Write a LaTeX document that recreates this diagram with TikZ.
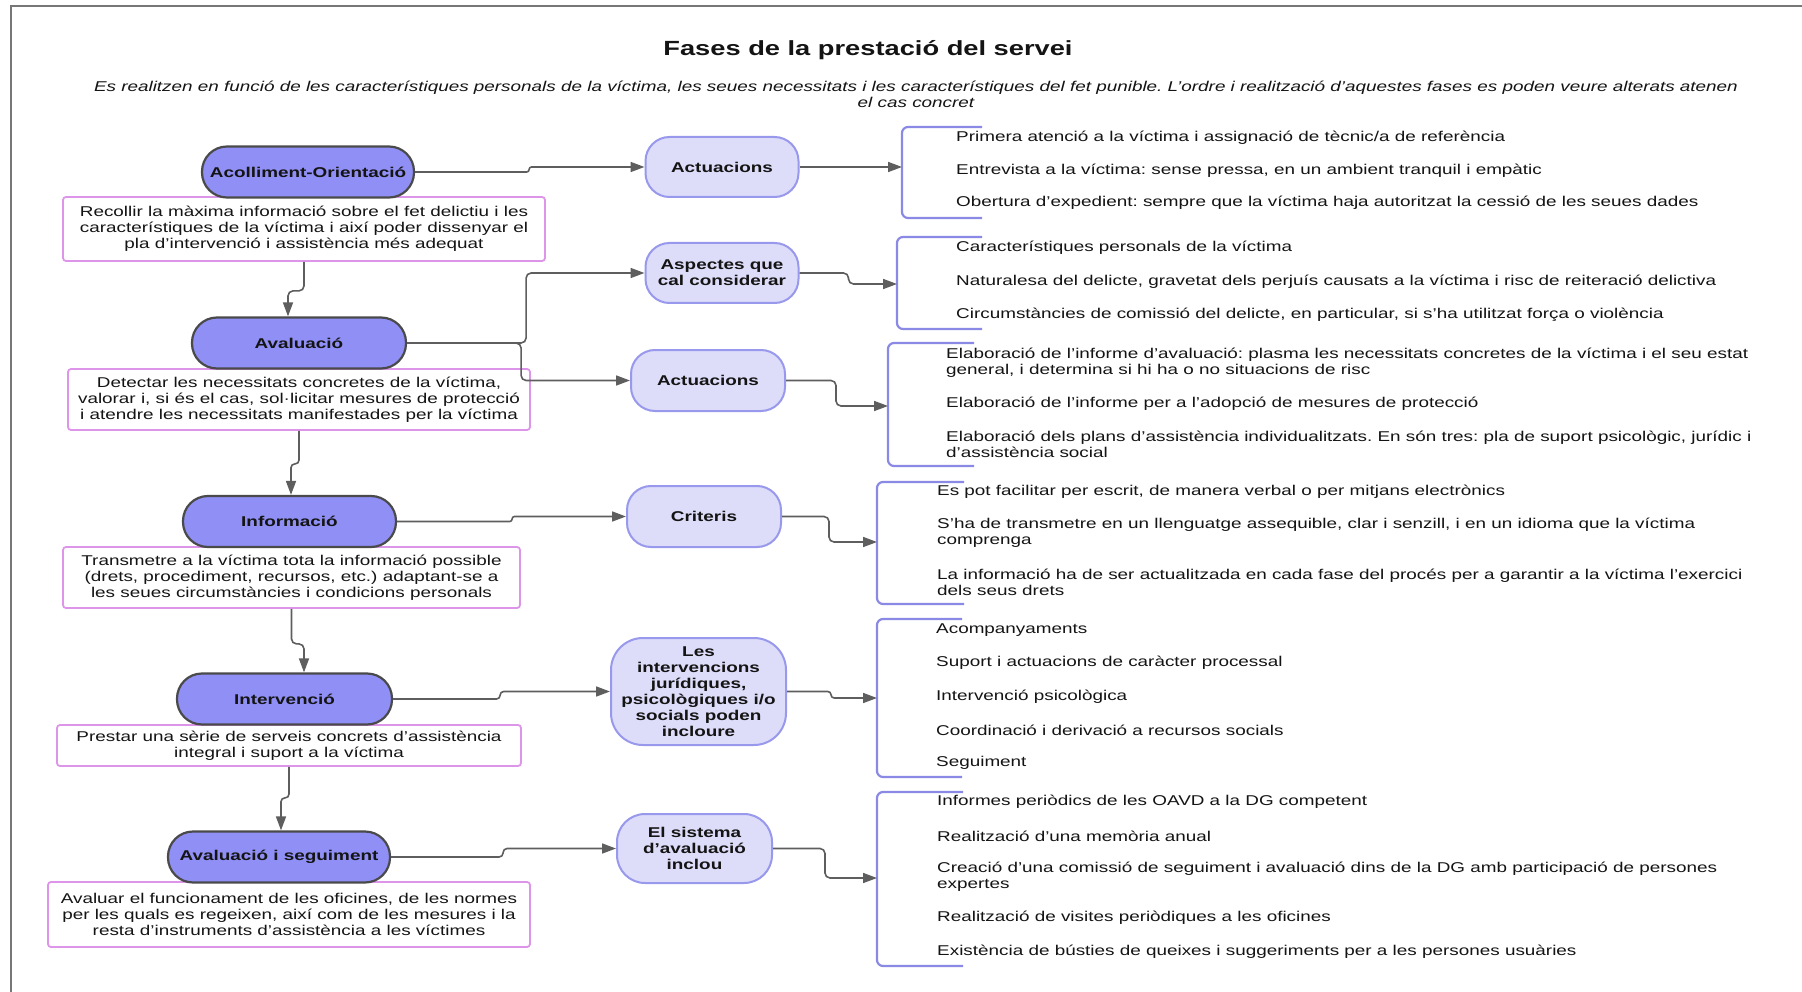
\documentclass[tikz,border=0pt]{standalone}
\usepackage{fontspec}
\setmainfont{Liberation Sans}[FakeStretch=1.33]
\usetikzlibrary{arrows.meta,calc}
\definecolor{stfill}{HTML}{8F8FF6}
\definecolor{stdraw}{HTML}{4A4A4A}
\definecolor{mfill}{HTML}{DDDDFA}
\definecolor{mdraw}{HTML}{9898EC}
\definecolor{dbox}{HTML}{DD95EA}
\definecolor{brk}{HTML}{8A8AE6}
\definecolor{conn}{HTML}{5E5E5E}
\definecolor{framec}{HTML}{777777}
\frenchspacing
\begin{document}
\begin{tikzpicture}[x=1pt,y=-1pt,
  every node/.style={font=\fontsize{14.2}{16}\selectfont, text=black!92},
  stad/.style={draw=stdraw, line width=2.2pt, fill=stfill, rounded corners=25pt, minimum height=51pt, inner sep=0pt, font=\fontsize{14.2}{16}\selectfont\bfseries},
  desc/.style={draw=dbox, line width=1.8pt, fill=white, rounded corners=3pt, align=center, inner sep=0pt},
  mid/.style={draw=mdraw, line width=2pt, fill=mfill, rounded corners=24pt, align=center, inner sep=0pt, font=\fontsize{14.2}{16}\selectfont\bfseries},
  item/.style={anchor=west, align=left, inner sep=0pt},
  arr/.style={draw=conn, line width=1.6pt, rounded corners=5pt, -{Triangle[length=14pt,width=10pt]}},
  brack/.style={draw=brk, line width=2.2pt, rounded corners=6pt},
]
\useasboundingbox (0,0) rectangle (1802,992);
\fill[white] (0,0) rectangle (1802,992);
\draw[framec, line width=2pt] (11,992) -- (11,6) -- (1802,6);

\node[font=\fontsize{20.5}{24}\selectfont\bfseries] (title) at (868,50) {Fases de la prestació del servei};
\node[font=\fontsize{14.2}{16}\selectfont\itshape, align=center, inner sep=0pt] (sub) at (916,94) {Es realitzen en funció de les característiques personals de la víctima, les seues necessitats i les característiques del fet punible. L'ordre i realització d'aquestes fases es poden veure alterats atenen\\el cas concret};

% description boxes
\node[desc, minimum width=482pt, minimum height=64pt] (d1) at (304,229) {Recollir la màxima informació sobre el fet delictiu i les\\característiques de la víctima i així poder dissenyar el\\pla d'intervenció i assistència més adequat};
\node[desc, minimum width=462pt, minimum height=61pt] (d2) at (299,399.5) {Detectar les necessitats concretes de la víctima,\\valorar i, si és el cas, sol·licitar mesures de protecció\\i atendre les necessitats manifestades per la víctima};
\node[desc, minimum width=457pt, minimum height=61pt] (d3) at (291.5,577.5) {Transmetre a la víctima tota la informació possible\\(drets, procediment, recursos, etc.) adaptant-se a\\les seues circumstàncies i condicions personals};
\node[desc, minimum width=464pt, minimum height=41pt] (d4) at (289,745.5) {Prestar una sèrie de serveis concrets d'assistència\\integral i suport a la víctima};
\node[desc, minimum width=482pt, minimum height=65pt] (d5) at (289,914.5) {Avaluar el funcionament de les oficines, de les normes\\per les quals es regeixen, així com de les mesures i la\\resta d'instruments d'assistència a les víctimes};

% stadiums
\node[stad, minimum width=212pt] (s1) at (308,172) {Acolliment-Orientació};
\node[stad, minimum width=214pt] (s2) at (299,343) {Avaluació};
\node[stad, minimum width=213pt] (s3) at (289.5,521.5) {Informació};
\node[stad, minimum width=215pt] (s4) at (284.5,699) {Intervenció};
\node[stad, minimum width=222pt] (s5) at (279,857) {Avaluació i seguiment};

% middle nodes
\node[mid, minimum width=153pt, minimum height=60pt] (m1) at (722,167) {Actuacions};
\node[mid, minimum width=153pt, minimum height=60pt] (m2) at (722,273) {Aspectes que\\cal considerar};
\node[mid, minimum width=154pt, minimum height=61pt] (m3) at (708,380.5) {Actuacions};
\node[mid, minimum width=154pt, minimum height=61pt] (m4) at (704,516.5) {Criteris};
\node[mid, minimum width=175pt, minimum height=107pt, rounded corners=32pt] (m5) at (698.5,691.5) {Les\\intervencions\\jurídiques,\\psicològiques i/o\\socials poden\\incloure};
\node[mid, minimum width=155pt, minimum height=69pt, rounded corners=28pt] (m6) at (694.5,848.5) {El sistema\\d'avaluació\\inclou};

% brackets
\draw[brack] (982,127) -- (902,127) -- (902,218) -- (982,218);
\draw[brack] (982,237) -- (897,237) -- (897,329) -- (982,329);
\draw[brack] (974,343) -- (888,343) -- (888,466) -- (974,466);
\draw[brack] (964,482) -- (877,482) -- (877,604) -- (964,604);
\draw[brack] (962,619) -- (877,619) -- (877,777) -- (962,777);
\draw[brack] (963,792) -- (877,792) -- (877,966) -- (963,966);
\coordinate (b1in) at (902,167);
\coordinate (b2in) at (897,284);
\coordinate (b3in) at (888,406);
\coordinate (b4in) at (877,542);
\coordinate (b5in) at (877,698);
\coordinate (b6in) at (877,878);

% items
\node[item] (i11) at (956,138) {Primera atenció a la víctima i assignació de tècnic/a de referència};
\node[item] (i12) at (956,171) {Entrevista a la víctima: sense pressa, en un ambient tranquil i empàtic};
\node[item] (i13) at (956,203) {Obertura d'expedient: sempre que la víctima haja autoritzat la cessió de les seues dades};

\node[item] (i21) at (956,248) {Característiques personals de la víctima};
\node[item] (i22) at (956,282) {Naturalesa del delicte, gravetat dels perjuís causats a la víctima i risc de reiteració delictiva};
\node[item] (i23) at (956,315) {Circumstàncies de comissió del delicte, en particular, si s'ha utilitzat força o violència};

\node[item] (i31) at (946,363) {Elaboració de l'informe d'avaluació: plasma les necessitats concretes de la víctima i el seu estat\\general, i determina si hi ha o no situacions de risc};
\node[item] (i32) at (946,404) {Elaboració de l'informe per a l'adopció de mesures de protecció};
\node[item] (i33) at (946,444) {Elaboració dels plans d'assistència individualitzats. En són tres: pla de suport psicològic, jurídic i\\d'assistència social};

\node[item] (i41) at (937,492) {Es pot facilitar per escrit, de manera verbal o per mitjans electrònics};
\node[item] (i42) at (937,533) {S'ha de transmetre en un llenguatge assequible, clar i senzill, i en un idioma que la víctima\\comprenga};
\node[item] (i43) at (937,582) {La informació ha de ser actualitzada en cada fase del procés per a garantir a la víctima l'exercici\\dels seus drets};

\node[item] (i51) at (936,630) {Acompanyaments};
\node[item] (i52) at (936,663) {Suport i actuacions de caràcter processal};
\node[item] (i53) at (936,697) {Intervenció psicològica};
\node[item] (i54) at (936,730) {Coordinació i derivació a recursos socials};
\node[item] (i55) at (936,763) {Seguiment};

\node[item] (i61) at (937,802) {Informes periòdics de les OAVD a la DG competent};
\node[item] (i62) at (937,836) {Realització d'una memòria anual};
\node[item] (i63) at (937,877) {Creació d'una comissió de seguiment i avaluació dins de la DG amb participació de persones\\expertes};
\node[item] (i64) at (937,918) {Realització de visites periòdiques a les oficines};
\node[item] (i65) at (937,952) {Existència de bústies de queixes i suggeriments per a les persones usuàries};

% connectors left -> middle
\draw[arr, rounded corners=2.4pt] (s1.east) -- ++(114,0) |- (m1.west);
\draw[arr] (s2.east) -- ++(119,0) |- (m2.west);
\draw[arr] (s2.east) -- ++(114,0) |- (m3.west);
\draw[arr, rounded corners=2.4pt] (s3.east) -- ++(115,0) |- (m4.west);
\draw[arr, rounded corners=3.6pt] (s4.east) -- ++(107,0) |- (m5.west);
\draw[arr, rounded corners=4pt] (s5.east) -- ++(112,0) |- (m6.west);

% connectors middle -> brackets
\draw[arr] (m1.east) -- (b1in);
\draw[arr] (m2.east) -- ++(49,0) |- (b2in);
\draw[arr] (m3.east) -- ++(50,0) |- (b3in);
\draw[arr] (m4.east) -- ++(47,0) |- (b4in);
\draw[arr, rounded corners=3.2pt] (m5.east) -- ++(44,0) |- (b5in);
\draw[arr] (m6.east) -- ++(52,0) |- (b6in);

% vertical connectors
\draw[arr] (d1.south) -- ++(0,29) -| ($(s2.north)+(-11,0)$);
\draw[arr, rounded corners=3.8pt] (d2.south) -- ++(0,33) -| ($(s3.north)+(1.5,0)$);
\draw[arr] (d3.south) -- ++(0,35) -| ($(s4.north)+(19.5,0)$);
\draw[arr, rounded corners=3.8pt] (d4.south) -- ++(0,31) -| ($(s5.north)+(2,0)$);
\end{tikzpicture}
\end{document}
